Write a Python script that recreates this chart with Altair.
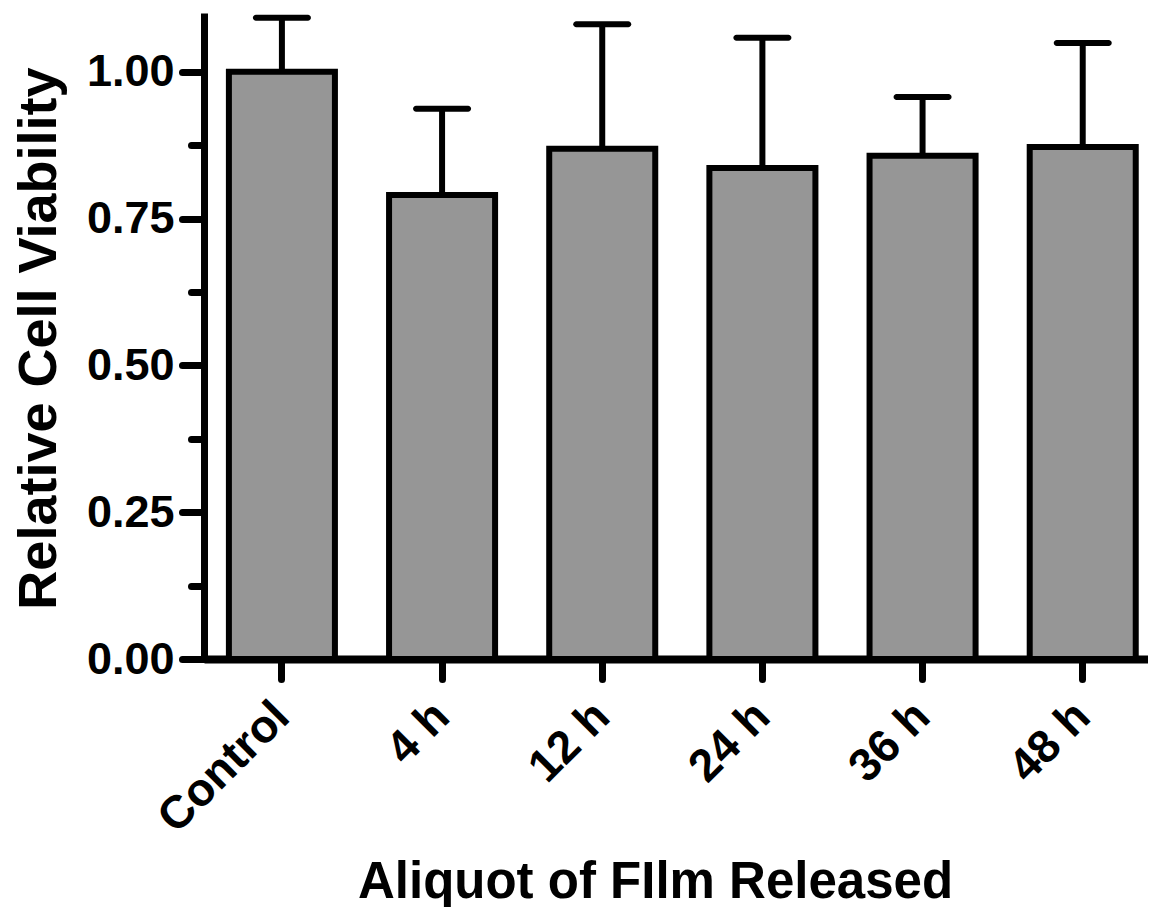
import altair as alt
import pandas as pd

categories = ["Control", "4 h", "12 h", "24 h", "36 h", "48 h"]
means = [1.000, 0.790, 0.869, 0.836, 0.857, 0.872]
upper = [1.092, 0.937, 1.081, 1.058, 0.957, 1.049]
y_ticks = [0, 0.125, 0.25, 0.375, 0.5, 0.625, 0.75, 0.875, 1.0]

df = pd.DataFrame({"group": categories, "mean": means, "upper": upper})

FONT = "Liberation Sans"
MAJOR = "round(datum.value * 8) % 2 == 0"

x_enc = alt.X(
    "group:N",
    sort=categories,
    scale=alt.Scale(paddingInner=0.338, paddingOuter=0.116, align=0.67),
    axis=alt.Axis(
        title="Aliquot of FIlm Released",
        labelAngle=-45, labelAlign="right", labelBaseline="middle",
        labelFontSize=46, labelFont=FONT, labelFontWeight="bold", labelColor="black",
        labelPadding=30, labelOverlap=False,
        tickSize=20, tickWidth=7, tickCap="round", tickColor="black",
        domainWidth=8, domainColor="black",
        titleFontSize=51, titleFont=FONT, titleFontWeight="bold", titleColor="black",
        titleX=451, titleY=238, titleAlign="center", titleBaseline="alphabetic",
        grid=False,
    ),
)

y_enc = alt.Y(
    "mean:Q",
    scale=alt.Scale(domain=[0, 1.1], nice=False, zero=True),
    axis=alt.Axis(
        title="Relative Cell Viability",
        values=y_ticks,
        labelExpr=MAJOR + " ? format(datum.value, '.2f') : ''",
        labelFontSize=45, labelFont=FONT, labelFontWeight="bold", labelColor="black",
        labelPadding=8, labelOverlap=False, labelBaseline="middle",
        tickSize={"condition": {"test": MAJOR, "value": 22}, "value": 13},
        tickWidth=7, tickCap="round", tickColor="black",
        domainWidth=7, domainColor="black",
        titleFontSize=54, titleFont=FONT, titleFontWeight="bold", titleColor="black",
        titleX=-149, titleY=325, titleAngle=-90, titleAlign="center", titleBaseline="alphabetic",
        grid=False,
    ),
)

base = alt.Chart(df)

err_line = base.mark_rule(color="black", strokeWidth=6).encode(
    x=x_enc, y=alt.Y("mean:Q"), y2="upper:Q"
)
bars = base.mark_bar(fill="#969696", stroke="black", strokeWidth=6).encode(
    x=x_enc, y=y_enc
)
caps = base.mark_tick(color="black", size=58, thickness=6, cornerRadius=3, opacity=1).encode(
    x=x_enc, y=alt.Y("upper:Q")
)

chart = alt.layer(err_line, bars, caps).properties(
    width=944, height=646,
    padding={"left": 196, "top": 5, "right": 0, "bottom": 248},
    autosize="none",
    background="white",
).configure_view(strokeWidth=0)

chart.save("out.html", embed_options={"renderer": "svg", "actions": False})
